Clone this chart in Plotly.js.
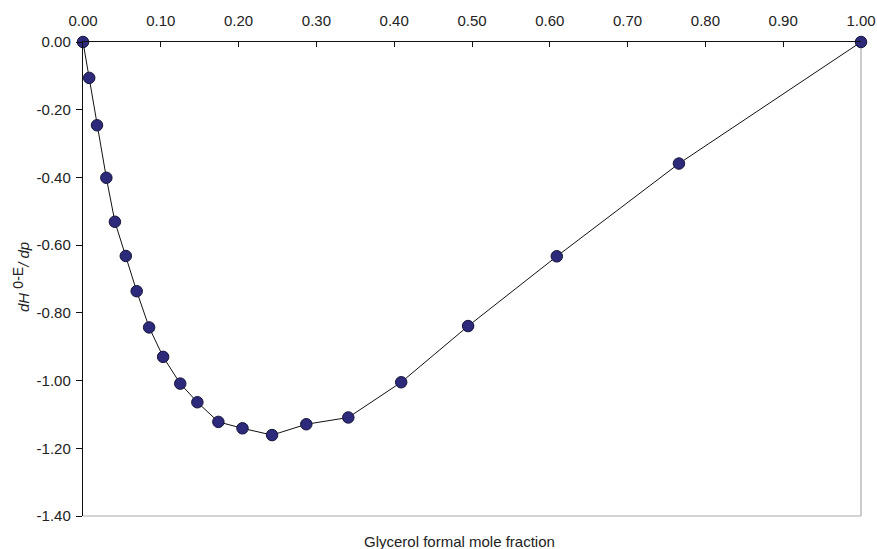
<!DOCTYPE html>
<html>
<head>
<meta charset="utf-8">
<script src="https://cdn.plot.ly/plotly-3.0.1.min.js"></script>
<style>
  html, body { margin: 0; padding: 0; background: #fff; }
  #chart { width: 877px; height: 549px; }
</style>
</head>
<body>
<div id="chart"></div>
<script>
// Glycerol formal mole fraction vs. pressure derivative of excess enthalpy
const moleFraction = [0, 0.008, 0.018, 0.030, 0.041, 0.055, 0.069, 0.085, 0.103, 0.125,
                      0.147, 0.174, 0.205, 0.243, 0.287, 0.341, 0.409, 0.495, 0.609, 0.766, 1.0];
const dHdp = [0, -0.106, -0.246, -0.401, -0.531, -0.632, -0.736, -0.843, -0.930, -1.009,
              -1.064, -1.122, -1.141, -1.161, -1.129, -1.109, -1.005, -0.839, -0.633, -0.359, 0];

const xTicks = [0, 0.1, 0.2, 0.3, 0.4, 0.5, 0.6, 0.7, 0.8, 0.9, 1.0];
const yTicks = [0, -0.2, -0.4, -0.6, -0.8, -1.0, -1.2, -1.4];
// plain hyphen-minus labels, two decimals
const xTickText = xTicks.map(v => v.toFixed(2));
const yTickText = yTicks.map(v => (v === 0 ? 0 : v).toFixed(2));

const font = { family: 'Liberation Sans, Arial, sans-serif', size: 15, color: '#222' };

const trace = {
  x: moleFraction,
  y: dHdp,
  mode: 'lines+markers',
  type: 'scatter',
  cliponaxis: false,
  line: { color: '#111', width: 1 },
  marker: { size: 11.5, color: '#2d2a7c', line: { color: '#15143a', width: 1 } },
  hoverinfo: 'x+y'
};

const layout = {
  width: 877,
  height: 549,
  margin: { l: 83, r: 16, t: 42, b: 33 },
  paper_bgcolor: '#fff',
  plot_bgcolor: '#fff',
  showlegend: false,
  font: font,
  xaxis: {
    side: 'top',
    range: [0, 1],
    tickvals: xTicks,
    ticktext: xTickText,
    ticks: 'inside',
    ticklen: 5,
    tickcolor: '#111',
    ticklabelstandoff: 9,
    showline: true,
    linecolor: '#111',
    linewidth: 1.2,
    showgrid: false,
    zeroline: false,
    tickfont: font
  },
  yaxis: {
    range: [-1.4, 0],
    tickvals: yTicks,
    ticktext: yTickText,
    ticks: 'outside',
    ticklen: 6,
    tickcolor: '#111',
    ticklabelstandoff: 2,
    showline: true,
    linecolor: '#111',
    linewidth: 1.2,
    showgrid: false,
    zeroline: false,
    tickfont: font
  },
  shapes: [
    { type: 'line', xref: 'paper', yref: 'paper', x0: 0, x1: 1, y0: 0, y1: 0,
      line: { color: '#aaa', width: 1.2 }, layer: 'below' },
    { type: 'line', xref: 'paper', yref: 'paper', x0: 1, x1: 1, y0: 0, y1: 1,
      line: { color: '#aaa', width: 1.2 }, layer: 'below' }
  ],
  annotations: [
    { text: 'Glycerol formal mole fraction', xref: 'paper', yref: 'paper',
      x: 0.5, y: 0, xshift: -13, yshift: -25, showarrow: false,
      xanchor: 'center', yanchor: 'middle', font: font },
    { text: '<i>dH</i> <sup><span style="font-size:14px">0-E</span></sup><i>/ dp</i>',
      xref: 'paper', yref: 'paper',
      x: 0, y: 0.5, xshift: -62, yshift: 2, showarrow: false, textangle: -90,
      xanchor: 'center', yanchor: 'middle', font: font }
  ]
};

Plotly.newPlot('chart', [trace], layout, { displayModeBar: false, staticPlot: true });
</script>
</body>
</html>
